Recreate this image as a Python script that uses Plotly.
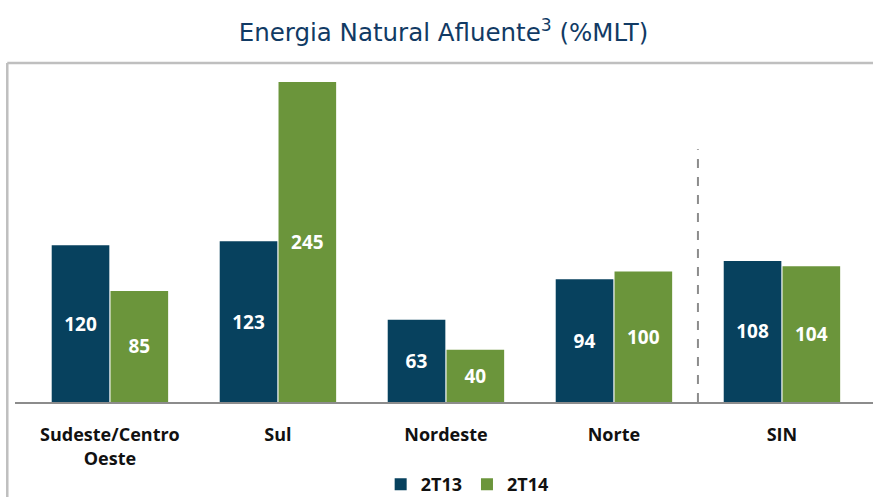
import plotly.graph_objects as go

categories = ["Sudeste/Centro<br>Oeste", "Sul", "Nordeste", "Norte", "SIN"]
series_2t13 = [120, 123, 63, 94, 108]
series_2t14 = [85, 245, 40, 100, 104]
series_names = ["2T13", "2T14"]

NAVY = "#07415E"
GREEN = "#6B953B"
LABEL_FONT = "Open Sans, Liberation Sans, sans-serif"

fig = go.Figure()
for name, vals, col in [(series_names[0], series_2t13, NAVY), (series_names[1], series_2t14, GREEN)]:
    fig.add_trace(go.Bar(
        x=categories, y=vals, name=name,
        marker=dict(color=col, line=dict(width=0)),
        text=[str(v) for v in vals], textposition="inside",
        insidetextanchor="middle", textangle=0, constraintext="none",
        textfont=dict(color="white", size=19, family=LABEL_FONT, weight="bold"),
        cliponaxis=False,
    ))

fig.update_layout(
    width=873, height=497,
    margin=dict(l=15, r=0, t=65, b=95, autoexpand=False),
    paper_bgcolor="white", plot_bgcolor="white",
    barmode="group", bargap=0.30, bargroupgap=0.02,
    title=dict(
        text="Energia Natural Afluente<sup>3</sup> (%MLT)",
        x=0.508, xanchor="center", y=0.935, yanchor="middle",
        font=dict(family="DejaVu Sans, Verdana, sans-serif", size=24.5, color="#113A64"),
    ),
    xaxis=dict(
        range=[-0.565, 4.542], showgrid=False, zeroline=False,
        showline=True, linecolor="#8C8C8C", linewidth=1.5,
        ticks="outside", ticklen=16, tickcolor="rgba(0,0,0,0)",
        tickfont=dict(family=LABEL_FONT, size=18, color="#111111", weight="bold"),
        fixedrange=True, automargin=False,
    ),
    yaxis=dict(range=[0, 258], visible=False, fixedrange=True, automargin=False),
    legend=dict(
        orientation="h", x=0.527, xanchor="center",
        yref="container", y=0.025, yanchor="middle",
        font=dict(family=LABEL_FONT, size=18, color="#111111", weight="bold"),
        traceorder="normal",
    ),
    showlegend=True,
    shapes=[
        dict(type="line", xref="x", yref="paper", x0=3.5, x1=3.5, y0=0, y1=0.75,
             line=dict(color="#8C8C8C", width=2, dash="dash")),
        dict(type="line", xref="paper", yref="paper", x0=-0.009, x1=1.01, y0=1.006, y1=1.006,
             line=dict(color="#BFBFBF", width=2.5)),
        dict(type="line", xref="paper", yref="paper", x0=-0.009, x1=-0.009, y0=1.006, y1=-0.3,
             line=dict(color="#BFBFBF", width=2.5)),
    ],
)

fig.write_html(
    "out.html",
    config={"displayModeBar": False},
    post_script="document.body.style.margin='0';document.body.style.overflow='hidden';",
)
